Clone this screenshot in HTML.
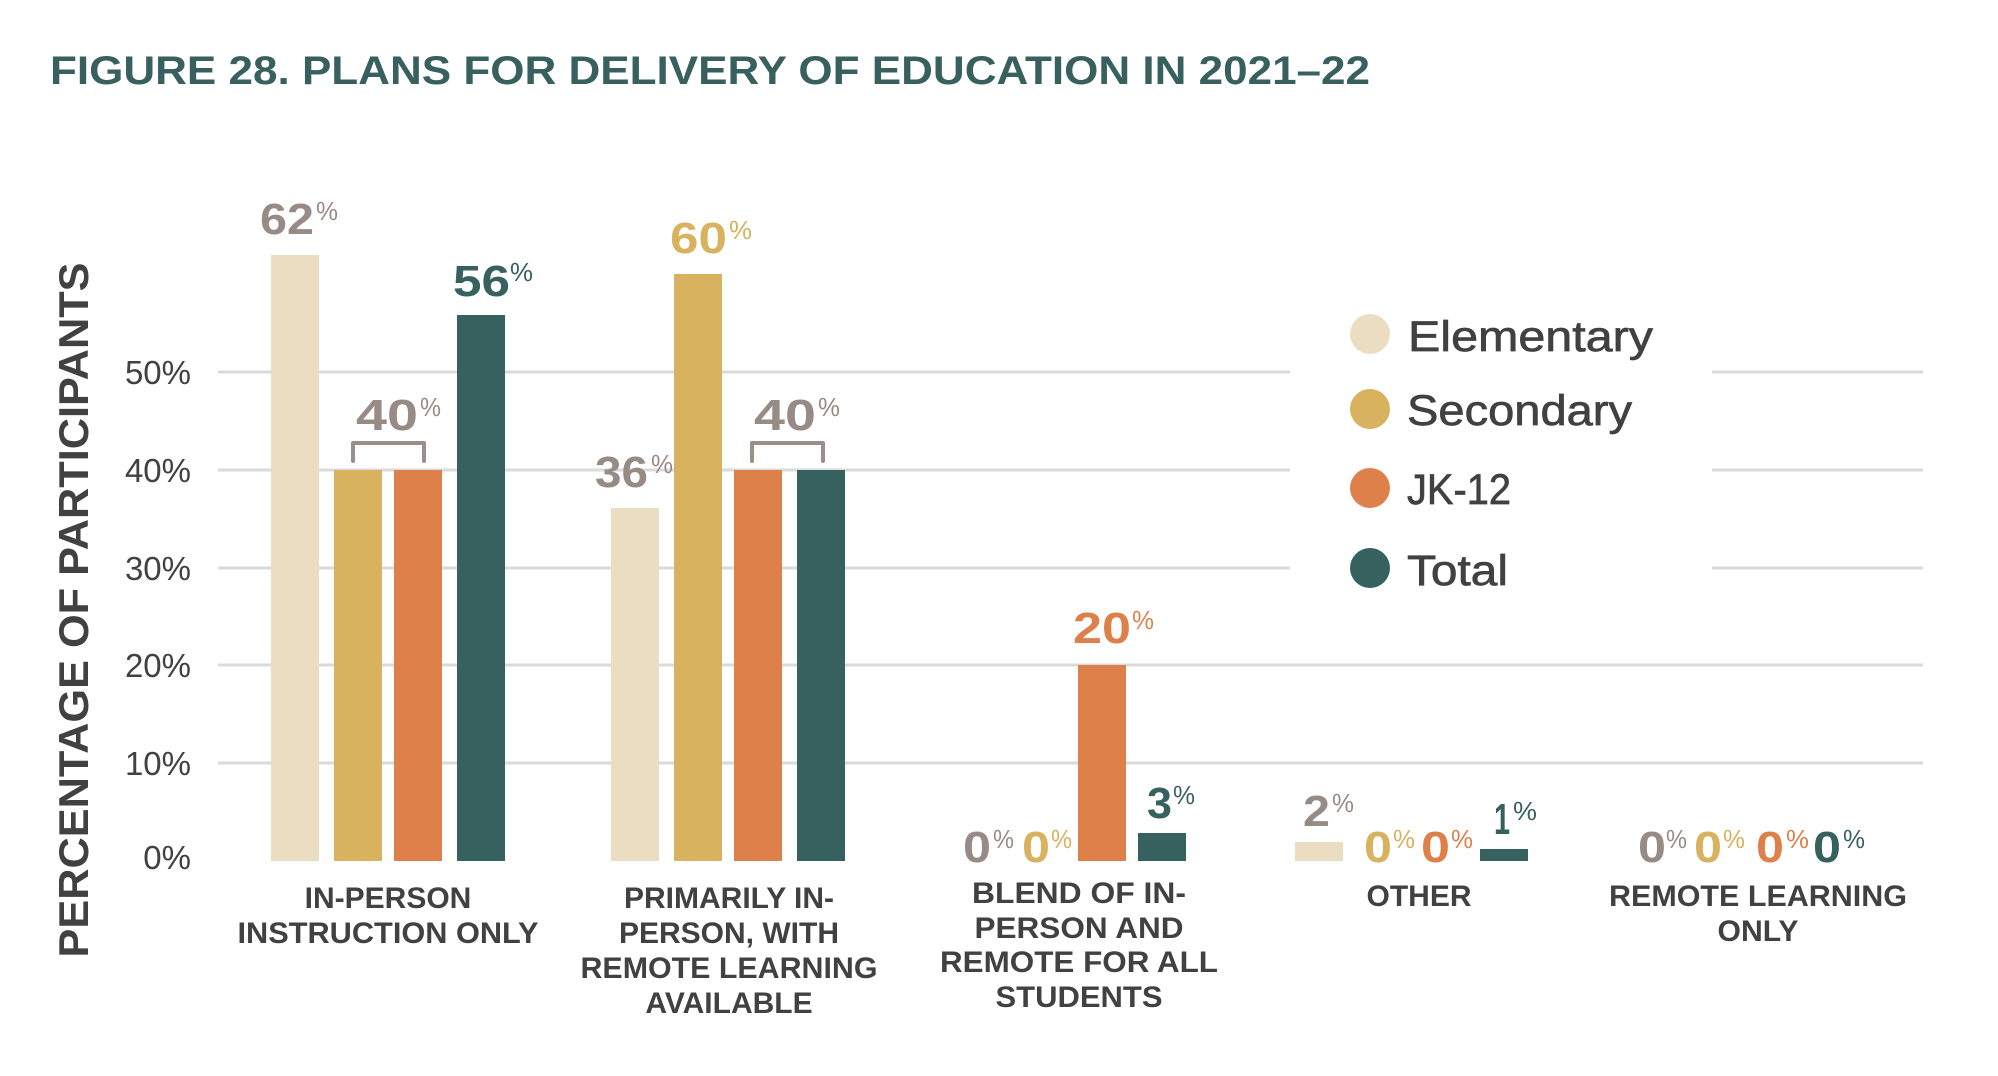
<!DOCTYPE html>
<html>
<head>
<meta charset="utf-8">
<style>
  html,body{margin:0;padding:0;background:#ffffff;}
  svg{display:block;}
  .dig{font-family:"Liberation Sans",sans-serif;font-weight:bold;font-size:44px;}
  .pct{font-family:"Liberation Sans",sans-serif;font-weight:normal;font-size:26px;}
  .cat{font-family:"Liberation Sans",sans-serif;font-weight:bold;font-size:30px;fill:#414141;text-anchor:middle;}
  .tick{font-family:"Liberation Sans",sans-serif;font-size:33px;fill:#414141;text-anchor:end;}
  .leg{font-family:"Liberation Sans",sans-serif;font-size:43px;fill:#414141;stroke:#414141;stroke-width:0.7px;}
</style>
</head>
<body>
<svg width="1998" height="1076" viewBox="0 0 1998 1076" xmlns="http://www.w3.org/2000/svg">
  <rect width="1998" height="1076" fill="#ffffff"/>

  <!-- Title -->
  <text x="50" y="84" font-family="Liberation Sans, sans-serif" font-weight="bold" font-size="40" fill="#37605E" textLength="1320" lengthAdjust="spacingAndGlyphs">FIGURE 28. PLANS FOR DELIVERY OF EDUCATION IN 2021–22</text>

  <!-- Y axis title -->
  <text transform="translate(88,610) rotate(-90)" x="0" y="0" text-anchor="middle" font-family="Liberation Sans, sans-serif" font-weight="bold" font-size="42" fill="#414141" textLength="695" lengthAdjust="spacingAndGlyphs">PERCENTAGE OF PARTICIPANTS</text>

  <!-- Gridlines -->
  <g stroke="#DADADA" stroke-width="3">
    <line x1="218" y1="372" x2="1290" y2="372"/>
    <line x1="1712" y1="372" x2="1923" y2="372"/>
    <line x1="218" y1="470" x2="1290" y2="470"/>
    <line x1="1712" y1="470" x2="1923" y2="470"/>
    <line x1="218" y1="568" x2="1290" y2="568"/>
    <line x1="1712" y1="568" x2="1923" y2="568"/>
    <line x1="218" y1="665" x2="1923" y2="665"/>
    <line x1="218" y1="763" x2="1923" y2="763"/>
  </g>

  <!-- Y tick labels -->
  <text class="tick" x="191" y="384">50%</text>
  <text class="tick" x="191" y="482">40%</text>
  <text class="tick" x="191" y="580">30%</text>
  <text class="tick" x="191" y="677">20%</text>
  <text class="tick" x="191" y="775">10%</text>
  <text class="tick" x="191" y="869">0%</text>

  <!-- Bars -->
  <!-- Group 1 -->
  <rect x="271" y="255" width="48" height="606" fill="#EADDC2"/>
  <rect x="334" y="470" width="48" height="391" fill="#D8B25E"/>
  <rect x="394" y="470" width="48" height="391" fill="#DE8049"/>
  <rect x="457" y="315" width="48" height="546" fill="#37615E"/>
  <!-- Group 2 -->
  <rect x="611" y="508" width="48" height="353" fill="#EADDC2"/>
  <rect x="674" y="274" width="48" height="587" fill="#D8B25E"/>
  <rect x="734" y="470" width="48" height="391" fill="#DE8049"/>
  <rect x="797" y="470" width="48" height="391" fill="#37615E"/>
  <!-- Group 3 -->
  <rect x="1078" y="665" width="48" height="196" fill="#DE8049"/>
  <rect x="1138" y="833" width="48" height="28" fill="#37615E"/>
  <!-- Group 4 -->
  <rect x="1295" y="842" width="48" height="19" fill="#EADDC2"/>
  <rect x="1480" y="849" width="48" height="12" fill="#37615E"/>

  <!-- Brackets -->
  <path d="M353 461 V443 H424 V461" fill="none" stroke="#9A8F8A" stroke-width="4" stroke-linecap="round" stroke-linejoin="round"/>
  <path d="M752 461 V443 H823 V461" fill="none" stroke="#9A8F8A" stroke-width="4" stroke-linecap="round" stroke-linejoin="round"/>

  <!-- Value labels -->
  <g fill="#978B86">
    <text class="dig" x="260" y="234" textLength="54" lengthAdjust="spacingAndGlyphs">62</text>
    <text class="pct" x="316" y="220" textLength="22" lengthAdjust="spacingAndGlyphs">%</text>
    <text class="dig" x="356" y="430" textLength="62" lengthAdjust="spacingAndGlyphs">40</text>
    <text class="pct" x="420" y="416" textLength="21" lengthAdjust="spacingAndGlyphs">%</text>
    <text class="dig" x="595" y="487" textLength="53" lengthAdjust="spacingAndGlyphs">36</text>
    <text class="pct" x="651" y="473" textLength="22" lengthAdjust="spacingAndGlyphs">%</text>
    <text class="dig" x="754" y="430" textLength="62" lengthAdjust="spacingAndGlyphs">40</text>
    <text class="pct" x="818" y="416" textLength="22" lengthAdjust="spacingAndGlyphs">%</text>
    <text class="dig" x="963" y="862" textLength="28" lengthAdjust="spacingAndGlyphs">0</text>
    <text class="pct" x="993" y="848" textLength="21" lengthAdjust="spacingAndGlyphs">%</text>
    <text class="dig" x="1303" y="826" textLength="27" lengthAdjust="spacingAndGlyphs">2</text>
    <text class="pct" x="1332" y="812" textLength="22" lengthAdjust="spacingAndGlyphs">%</text>
    <text class="dig" x="1638" y="862" textLength="28" lengthAdjust="spacingAndGlyphs">0</text>
    <text class="pct" x="1666" y="848" textLength="21" lengthAdjust="spacingAndGlyphs">%</text>
  </g>
  <g fill="#D8B25E">
    <text class="dig" x="670" y="253" textLength="57" lengthAdjust="spacingAndGlyphs">60</text>
    <text class="pct" x="729" y="239" textLength="23" lengthAdjust="spacingAndGlyphs">%</text>
    <text class="dig" x="1022" y="862" textLength="28" lengthAdjust="spacingAndGlyphs">0</text>
    <text class="pct" x="1051" y="848" textLength="21" lengthAdjust="spacingAndGlyphs">%</text>
    <text class="dig" x="1364" y="862" textLength="28" lengthAdjust="spacingAndGlyphs">0</text>
    <text class="pct" x="1393" y="848" textLength="22" lengthAdjust="spacingAndGlyphs">%</text>
    <text class="dig" x="1694" y="862" textLength="28" lengthAdjust="spacingAndGlyphs">0</text>
    <text class="pct" x="1723" y="848" textLength="22" lengthAdjust="spacingAndGlyphs">%</text>
  </g>
  <g fill="#DE8049">
    <text class="dig" x="1073" y="643" textLength="58" lengthAdjust="spacingAndGlyphs">20</text>
    <text class="pct" x="1132" y="629" textLength="22" lengthAdjust="spacingAndGlyphs">%</text>
    <text class="dig" x="1421" y="862" textLength="29" lengthAdjust="spacingAndGlyphs">0</text>
    <text class="pct" x="1451" y="848" textLength="22" lengthAdjust="spacingAndGlyphs">%</text>
    <text class="dig" x="1756" y="862" textLength="28" lengthAdjust="spacingAndGlyphs">0</text>
    <text class="pct" x="1786" y="848" textLength="23" lengthAdjust="spacingAndGlyphs">%</text>
  </g>
  <g fill="#37615E">
    <text class="dig" x="453" y="296" textLength="57" lengthAdjust="spacingAndGlyphs">56</text>
    <text class="pct" x="510" y="281" textLength="23" lengthAdjust="spacingAndGlyphs">%</text>
    <text class="dig" x="1147" y="818" textLength="25" lengthAdjust="spacingAndGlyphs">3</text>
    <text class="pct" x="1173" y="804" textLength="22" lengthAdjust="spacingAndGlyphs">%</text>
    <text class="dig" x="1494" y="834" textLength="16" lengthAdjust="spacingAndGlyphs">1</text>
    <text class="pct" x="1513" y="820" textLength="24" lengthAdjust="spacingAndGlyphs">%</text>
    <text class="dig" x="1813" y="862" textLength="28" lengthAdjust="spacingAndGlyphs">0</text>
    <text class="pct" x="1843" y="848" textLength="22" lengthAdjust="spacingAndGlyphs">%</text>
  </g>

  <!-- Category labels -->
  <text class="cat" x="388" y="908">IN-PERSON</text>
  <text class="cat" x="388" y="943" textLength="301" lengthAdjust="spacingAndGlyphs">INSTRUCTION ONLY</text>

  <text class="cat" x="729" y="908">PRIMARILY IN-</text>
  <text class="cat" x="729" y="943">PERSON, WITH</text>
  <text class="cat" x="729" y="978" textLength="297" lengthAdjust="spacingAndGlyphs">REMOTE LEARNING</text>
  <text class="cat" x="729" y="1013">AVAILABLE</text>

  <text class="cat" x="1079" y="903" textLength="214" lengthAdjust="spacingAndGlyphs">BLEND OF IN-</text>
  <text class="cat" x="1079" y="938" textLength="209" lengthAdjust="spacingAndGlyphs">PERSON AND</text>
  <text class="cat" x="1079" y="972" textLength="278" lengthAdjust="spacingAndGlyphs">REMOTE FOR ALL</text>
  <text class="cat" x="1079" y="1007" textLength="167" lengthAdjust="spacingAndGlyphs">STUDENTS</text>

  <text class="cat" x="1419" y="906" textLength="105" lengthAdjust="spacingAndGlyphs">OTHER</text>

  <text class="cat" x="1758" y="906" textLength="298" lengthAdjust="spacingAndGlyphs">REMOTE LEARNING</text>
  <text class="cat" x="1758" y="941" textLength="81" lengthAdjust="spacingAndGlyphs">ONLY</text>

  <!-- Legend -->
  <circle cx="1370" cy="334" r="20" fill="#EADDC2"/>
  <circle cx="1370" cy="409" r="20" fill="#D8B25E"/>
  <circle cx="1370" cy="488" r="20" fill="#DE8049"/>
  <circle cx="1370" cy="568" r="20" fill="#37615E"/>
  <text class="leg" x="1408" y="351" textLength="245" lengthAdjust="spacingAndGlyphs">Elementary</text>
  <text class="leg" x="1407" y="425" textLength="225" lengthAdjust="spacingAndGlyphs">Secondary</text>
  <text class="leg" x="1407" y="504" textLength="104" lengthAdjust="spacingAndGlyphs">JK-12</text>
  <text class="leg" x="1407" y="585" textLength="101" lengthAdjust="spacingAndGlyphs">Total</text>
</svg>
</body>
</html>
